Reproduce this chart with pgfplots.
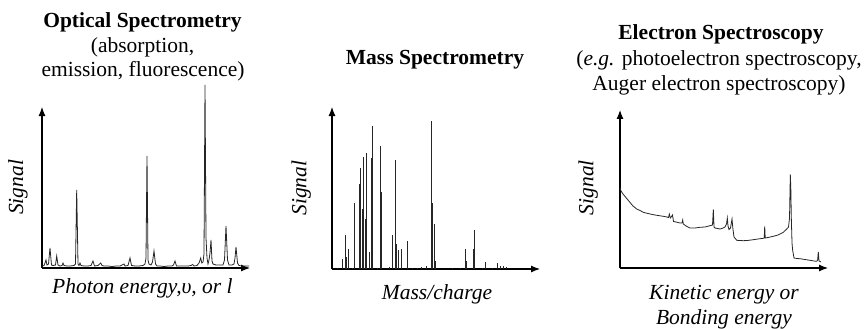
\documentclass[border=0pt]{standalone}
\usepackage{pgfplots}
\pgfplotsset{compat=1.18}
\usepackage{fontspec}
\setmainfont{Liberation Serif}
\usetikzlibrary{arrows.meta}
\newcommand\lbl{\fontsize{21.5bp}{25bp}\selectfont}
\begin{document}
\begin{tikzpicture}[x=1bp,y=1bp]
\useasboundingbox (0,0) rectangle (864,328);
\pgfplotsset{spec/.style={width=208bp, scale only axis, axis lines=left,
  xmin=0, xmax=208, ymin=0, enlargelimits=false, ticks=none, clip=false,
  axis line style={line width=1.1bp, -{Latex[length=9bp,width=7bp]}},
  anchor=south west, label style={font=\lbl\itshape}}}

% ---------- Optical spectrometry ----------
\begin{axis}[spec, at={(42,60)}, height=161bp, ymax=161,
  xlabel={Photon energy,υ, or l}, ylabel={Signal},
  xlabel style={at={(axis description cs:0.483,-0.157)}, anchor=base},
  ylabel style={at={(axis description cs:-0.0913,0.5)}, anchor=base}]
\addplot[black!85, line width=0.8bp] coordinates {
(0,2) (2,2.5) (3,5) (4,8) (5,3) (6.5,4) (8,20) (9.5,3) (11,2.5) (13.5,3)
(14.7,12) (16,3) (18,2) (20,2.5) (21,5) (22,2.5) (25,2) (28,2) (32,2.5)
(33.5,4) (34.7,78) (36,4) (37,2.5) (38,5) (39,2.5) (42,2) (46,2) (49,2.5)
(51,7) (52.5,2) (56,2.5) (58.7,5) (60,2.5) (62,2) (66,2) (70,1.5) (74,2)
(78,2) (80,3) (82,4) (83,2) (86,2.5) (88,10) (89.5,2.5) (93,2) (97,2)
(101,2.5) (103,4) (104,10) (105,112) (106,8) (107,4) (109,3) (110.5,6)
(112,17) (113.5,4) (115,2) (118,2) (122,1.5) (126,2) (130,2) (131.5,3)
(133,7) (134.5,2) (138,2) (142,2) (146,2) (149,2.5) (150.7,3.5) (152,2)
(155,2.5) (157,5) (158.7,10) (159.8,5) (161,6) (162,14) (163,183) (164,30)
(165,10) (166,4) (167,8) (168,15) (169,28) (170,7) (171,4) (174,3) (178,3)
(181,3) (182.5,8) (184,42) (185.5,8) (187,3) (190,3) (192,4) (193,10)
(194,21) (195.5,5) (197,2.5) (200,2) (204,2) (207,2)
};
\end{axis}

% ---------- Mass spectrometry ----------
\begin{axis}[spec, at={(332,59)}, height=162bp, ymax=162,
  xlabel={Mass/charge}, ylabel={Signal},
  xlabel style={at={(axis description cs:0.505,-0.191)}, anchor=base},
  ylabel style={at={(axis description cs:-0.1236,0.5)}, anchor=base}]
\addplot[ycomb, black!85, line width=0.9bp] coordinates {
(5,1) (10.7,10) (13.7,34) (14.5,12) (16.7,20) (20,1.5) (22.7,66) (27.3,85)
(28.3,101) (30.5,60) (31.3,112) (33.5,50) (34.3,116) (37.3,17) (39.2,111)
(40,143) (45,1) (48.7,123) (49.5,77) (57,2) (60.7,34) (63.3,109) (64.5,25)
(66.3,19) (69.3,20) (75,28) (80,1) (85,1) (89.7,2) (94,3) (99.3,148)
(100.3,66) (102.3,45) (103,8) (120,1) (128,1) (133.3,20) (134,8) (141.3,20)
(142,39) (150,1.5) (153.7,7) (160,1) (165,6) (168,3) (171,3) (174,2)
};
\end{axis}

% ---------- Electron spectroscopy ----------
\begin{axis}[spec, at={(620,60)}, height=158bp, ymax=158,
  xlabel={Kinetic energy or\\Bonding energy}, ylabel={Signal},
  xlabel style={at={(axis description cs:0.5,-0.359)}, anchor=base, align=center},
  ylabel style={at={(axis description cs:-0.128,0.508)}, anchor=base}]
\addplot[black!85, line width=0.8bp] coordinates {
(0,80) (1,77) (3,74) (5,71.5) (8,68) (10,65.5) (13,62) (16.7,59) (20,57.5)
(23.3,55.7) (28,54.5) (33.3,53.3) (38,52.5) (43.3,51.7) (47,51) (48.5,50.5)
(49.3,54) (50.3,50) (51.5,51.5) (52.5,53) (53.5,46.5) (56,46) (60,45)
(62,45) (62.7,48) (63.3,44) (66,42) (70,40) (75,40) (80,40.7) (85,41)
(90,42.3) (92.5,43) (93.3,58.5) (94,41) (95,40) (100,39) (103,40) (105,41)
(106.5,44) (107.3,50) (108,42) (109,38.5) (110.5,40) (112,49) (112.8,40)
(114,31) (116.7,27.7) (120,27.5) (123.3,27.3) (128,27.6) (133.3,28.3)
(138,29) (143.3,29.7) (144.2,30) (144.7,41.7) (145.2,30) (148,30.5)
(153.3,31.7) (158,33) (163.3,35.7) (166.7,39) (168.5,41) (169.5,50)
(170.3,93.5) (170.8,80) (171.3,50) (172,25) (172.6,18) (174,10) (177,9.5)
(180,9.3) (185,8.5) (190,7.7) (194,7) (196.7,6.7) (197.6,8) (198.3,16)
(199,7) (201,6)
};
\end{axis}

% ---------- Titles ----------
\node[font=\lbl\bfseries, anchor=base] at (142.5,300.7) {Optical Spectrometry};
\node[font=\lbl, anchor=base] at (142.5,275.3) {(absorption,};
\node[font=\lbl, anchor=base] at (143,251.3) {emission, fluorescence)};
\node[font=\lbl\bfseries, anchor=base] at (435,263.7) {Mass Spectrometry};
\node[font=\lbl\bfseries, anchor=base] at (721,288.7) {Electron Spectroscopy};
\node[font=\lbl, anchor=base] at (719,263) {(\textit{e.g.} photoelectron spectroscopy,};
\node[font=\lbl, anchor=base] at (719,238) {Auger electron spectroscopy)};
\end{tikzpicture}
\end{document}
